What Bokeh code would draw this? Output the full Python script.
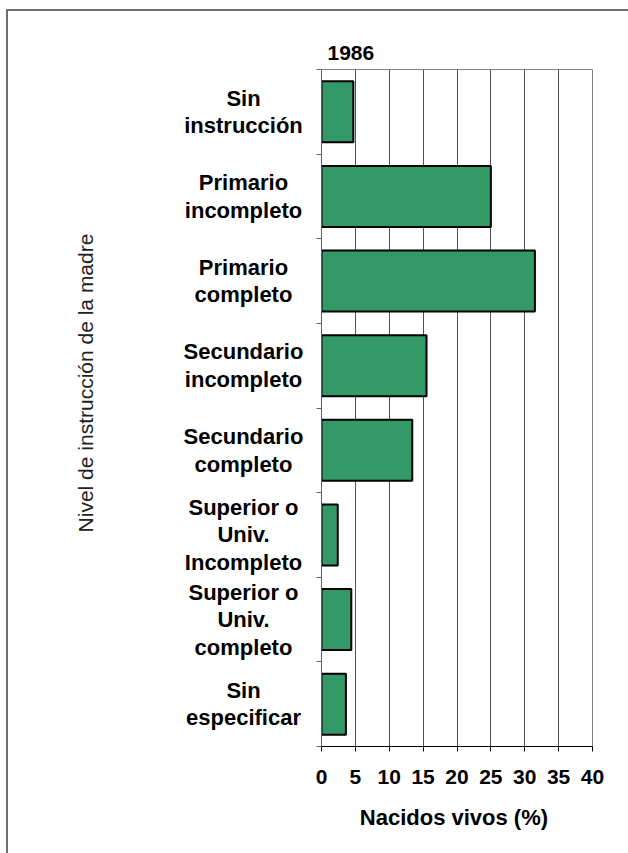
import math
from bokeh.plotting import figure
from bokeh.layouts import row
from bokeh.models import ColumnDataSource, LabelSet, Label, FixedTicker, Range1d
from bokeh.embed import file_html
from bokeh.resources import INLINE
from bokeh.core.properties import value

# ---- data ----
categories = [
    "Sin\ninstrucción",
    "Primario\nincompleto",
    "Primario\ncompleto",
    "Secundario\nincompleto",
    "Secundario\ncompleto",
    "Superior o\nUniv.\nIncompleto",
    "Superior o\nUniv.\ncompleto",
    "Sin\nespecificar",
]
values = [4.7, 25.0, 31.5, 15.5, 13.4, 2.4, 4.4, 3.6]
x_ticks = [0, 5, 10, 15, 20, 25, 30, 35, 40]
year = "1986"
x_title = "Nacidos vivos  (%)"
y_title = "Nivel de instrucción de la madre"

FONT = "Liberation Sans"
n = len(categories)
positions = [i + 0.5 for i in range(n)]
src = ColumnDataSource(dict(y=positions, v=values))

H = 842
TOP, BOTTOM = 58, 107
WL, WR = 300, 320
frame_h = H - TOP - BOTTOM
line_step = 27.5 / (frame_h / n)   # one text line, in category units

# split the multi-line category names into single, centred lines
ly, lt = [], []
for pos, cat in zip(positions, categories):
    parts = cat.split("\n")
    m = len(parts)
    for k, t in enumerate(parts):
        ly.append(pos + (k - (m - 1) / 2) * line_step)
        lt.append(t)
lab_src = ColumnDataSource(dict(y=ly, t=lt))

yr = Range1d(n, 0)

# ---- left panel: category names and axis title ----
L = figure(width=WL, height=H, output_backend="svg", toolbar_location=None,
           x_range=Range1d(0, 1), y_range=yr, x_axis_type=None, y_axis_type=None,
           min_border_left=0, min_border_right=0,
           min_border_top=TOP, min_border_bottom=BOTTOM)
L.outline_line_color = None
L.xgrid.visible = False
L.ygrid.visible = False

L.add_layout(LabelSet(x=235, x_units="screen", y="y", text="t", source=lab_src,
                      text_align="center", text_baseline="middle",
                      text_font=value(FONT), text_font_style="bold",
                      text_font_size="22px", text_color="black"))
L.add_layout(Label(x=76.5, y=363.5, x_units="screen", y_units="screen",
                   text=y_title, angle=math.pi / 2,
                   text_align="center", text_baseline="middle",
                   text_font=FONT, text_font_size="21px", text_color="#222222"))

# ---- right panel: the bars ----
p = figure(width=WR, height=H, output_backend="svg", toolbar_location=None,
           x_range=Range1d(0, 40), y_range=yr,
           min_border_left=13, min_border_right=36,
           min_border_top=TOP, min_border_bottom=BOTTOM)

p.title.text = year
p.title.text_font = FONT
p.title.text_font_style = "bold"
p.title.text_font_size = "21px"
p.title.text_color = "black"
p.title.align = "left"
p.title.offset = 6
p.title.standoff = 20

p.outline_line_color = "#808080"
p.outline_line_width = 1

p.xgrid.ticker = FixedTicker(ticks=x_ticks)
p.xgrid.grid_line_color = "#505050"
p.xgrid.grid_line_width = 1
p.ygrid.visible = False

p.hbar(y="y", left=0, right="v", height=0.72, source=src,
       fill_color="#339966", line_color="black", line_width=2)

xa = p.xaxis[0]
xa.ticker = FixedTicker(ticks=x_ticks)
xa.axis_line_color = "black"
xa.major_tick_line_color = "black"
xa.major_tick_out = 5
xa.major_tick_in = 0
xa.minor_tick_line_color = None
xa.major_label_text_font = FONT
xa.major_label_text_font_style = "bold"
xa.major_label_text_font_size = "21px"
xa.major_label_text_color = "black"
xa.major_label_standoff = 18
xa.axis_label = x_title
xa.axis_label_text_font = FONT
xa.axis_label_text_font_style = "bold"
xa.axis_label_text_font_size = "22px"
xa.axis_label_text_color = "black"
xa.axis_label_standoff = 18

ya = p.yaxis[0]
ya.ticker = FixedTicker(ticks=list(range(n + 1)))
ya.axis_line_color = "#606060"
ya.major_tick_line_color = "#606060"
ya.major_tick_out = 5
ya.major_tick_in = 0
ya.minor_tick_line_color = None
ya.major_label_text_font_size = "1px"
ya.major_label_text_color = None
ya.major_label_standoff = 0

layout = row(L, p)
layout.styles = {"margin-left": "6px", "margin-top": "9px",
                 "border-left": "2px solid #6e6e6e", "border-top": "2px solid #6e6e6e"}

open("out.html", "w").write(file_html(layout, INLINE))
